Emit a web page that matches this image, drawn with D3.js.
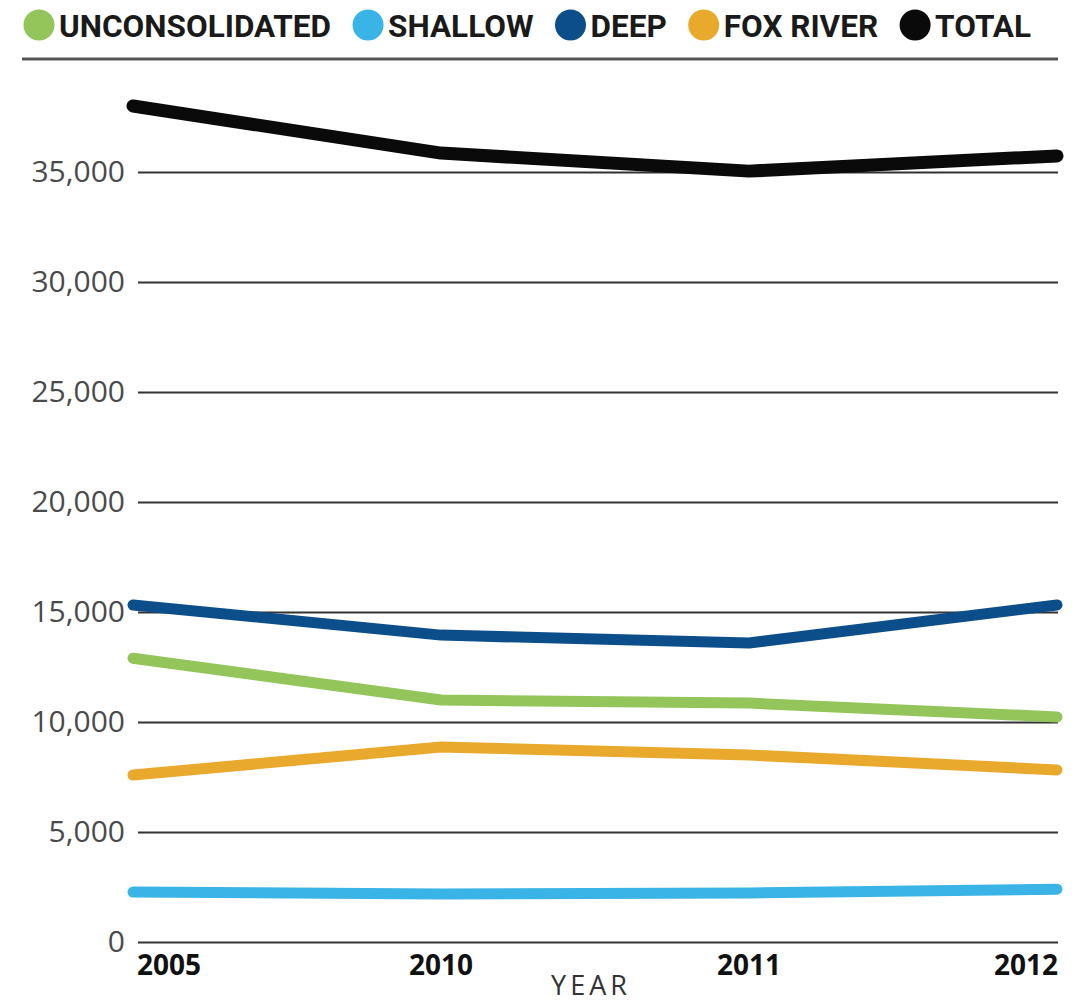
<!DOCTYPE html>
<html>
<head>
<meta charset="utf-8">
<script src="https://cdn.jsdelivr.net/npm/d3@7/dist/d3.min.js"></script>
<style>
  html, body { margin: 0; padding: 0; background: #fff; }
  svg { display: block; }
</style>
</head>
<body>
<svg id="chart" width="1081" height="1002"></svg>
<script>
// ---- Data ----
const years = ["2005", "2010", "2011", "2012"];
const unconsolidated = [12900, 11000, 10860, 10230];
const shallow = [2270, 2180, 2230, 2400];
const deep = [15320, 13950, 13590, 15320];
const foxRiver = [7590, 8860, 8500, 7820];
const total = [38000, 35860, 35040, 35730];
const yTicks = [0, 5000, 10000, 15000, 20000, 25000, 30000, 35000];
const seriesNames = ["UNCONSOLIDATED", "SHALLOW", "DEEP", "FOX RIVER", "TOTAL"];
const seriesColors = ["#93c55a", "#3ab4e6", "#0c4e8a", "#e8a92d", "#0a0a0a"];
const seriesValues = [unconsolidated, shallow, deep, foxRiver, total];
const xTitle = "YEAR";

// ---- Layout ----
const svg = d3.select("#chart");
const gridLeft = 138, gridRight = 1058;
const x = d3.scalePoint().domain(years).range([133, 1057]);
const y = d3.scaleLinear().domain([0, 35000]).range([942, 172]);

// Legend
const legend = svg.append("g").attr("class", "legend");
let lx = 24;
seriesNames.forEach((name, i) => {
  const g = legend.append("g");
  g.append("circle").attr("cx", lx + 15).attr("cy", 25).attr("r", 15.5).attr("fill", seriesColors[i]);
  const t = g.append("text")
    .attr("x", lx + 35).attr("y", 37)
    .attr("font-family", "Roboto, 'Open Sans', sans-serif")
    .attr("font-weight", 700)
    .attr("font-size", 31.5)
    .attr("fill", "#1a1a1a")
    .text(name);
  const w = t.node().getComputedTextLength();
  lx = lx + 35 + w + 22;
});

// Top rule
svg.append("line")
  .attr("x1", 22).attr("x2", 1058).attr("y1", 59).attr("y2", 59)
  .attr("stroke", "#555").attr("stroke-width", 3);

// Y axis with gridlines
const yAxis = d3.axisLeft(y)
  .tickValues(yTicks)
  .tickSize(-(gridRight - gridLeft))
  .tickPadding(13)
  .tickFormat(d3.format(","));
const yg = svg.append("g")
  .attr("transform", `translate(${gridLeft},0)`)
  .call(yAxis);
yg.select(".domain").remove();
yg.selectAll(".tick line").attr("stroke", "#333").attr("stroke-width", 2);
yg.selectAll(".tick text")
  .attr("font-family", "'Open Sans', sans-serif")
  .attr("font-weight", 400)
  .attr("font-size", 30)
  .attr("fill", "#4a4a4a")
  .attr("dy", "0.32em");

// Lines
const line = d3.line()
  .x((d, i) => x(years[i]))
  .y(d => y(d));
seriesValues.forEach((vals, i) => {
  svg.append("path")
    .datum(vals)
    .attr("d", line)
    .attr("fill", "none")
    .attr("stroke", seriesColors[i])
    .attr("stroke-width", i === 4 ? 13 : 11)
    .attr("stroke-linecap", "round")
    .attr("stroke-linejoin", "round");
});

// X axis labels
const xg = svg.append("g").attr("class", "x-axis");
years.forEach((yr, i) => {
  const anchor = i === 0 ? "start" : (i === years.length - 1 ? "end" : "middle");
  xg.append("text")
    .attr("x", x(yr) + (i === 0 ? 4 : (i === years.length - 1 ? 1 : 0)))
    .attr("y", 975)
    .attr("text-anchor", anchor)
    .attr("font-family", "'Open Sans', sans-serif")
    .attr("font-weight", 700)
    .attr("font-size", 28)
    .attr("fill", "#111")
    .text(yr);
});

// X title
svg.append("text")
  .attr("x", 591).attr("y", 995)
  .attr("text-anchor", "middle")
  .attr("font-family", "'Open Sans', sans-serif")
  .attr("font-weight", 400)
  .attr("font-size", 27)
  .attr("letter-spacing", 4)
  .attr("fill", "#333")
  .text(xTitle);
</script>
</body>
</html>
